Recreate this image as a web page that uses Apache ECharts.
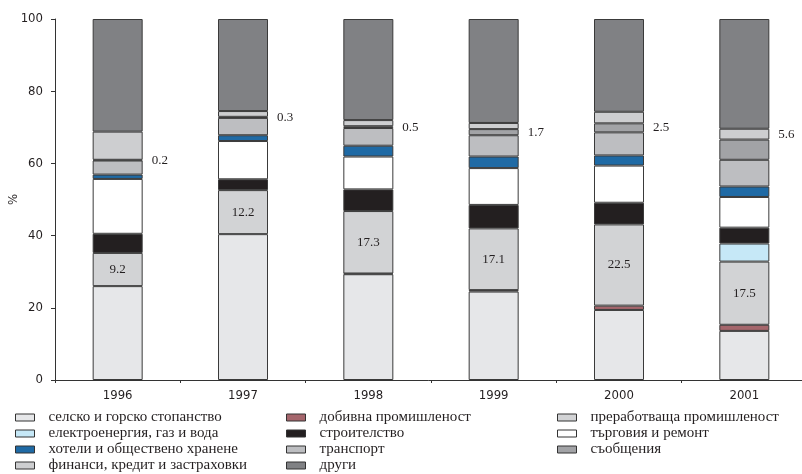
<!DOCTYPE html>
<html>
<head>
<meta charset="utf-8">
<script src="https://cdn.jsdelivr.net/npm/echarts@6/dist/echarts.min.js"></script>
<style>
  html, body { margin: 0; padding: 0; background: #fff; }
  #chart { width: 802px; height: 474px; }
</style>
</head>
<body>
<div id="chart"></div>
<script>
// Gross value added by sector, share of total (%)
const years = ['1996', '1997', '1998', '1999', '2000', '2001'];
const yTicks = [0, 20, 40, 60, 80, 100];

const agriculture    = [26.0, 40.4, 29.3, 24.5, 19.4, 13.6];
const mining         = [null, null, 0.2, 0.4, 1.2, 1.7];
const manufacturing  = [9.2, 12.2, 17.3, 17.1, 22.5, 17.5];
const energy         = [null, null, null, null, null, 5.0];
const construction   = [5.3, 3.0, 6.0, 6.5, 6.0, 4.4];
const trade          = [15.2, 10.6, 9.1, 10.2, 10.3, 8.5];
const hotels         = [1.2, 1.6, 3.0, 3.2, 2.8, 2.9];
const transport      = [3.9, 4.8, 4.9, 5.9, 6.4, 7.4];
const communications = [0.2, 0.3, 0.5, 1.7, 2.5, 5.6];
const finance        = [7.8, 1.6, 1.7, 1.7, 3.2, 3.0];
const other          = [31.2, 25.5, 28.0, 28.8, 25.7, 30.4];

const names = {
  agriculture: 'селско и горско стопанство',
  mining: 'добивна промишленост',
  manufacturing: 'преработваща промишленост',
  energy: 'електроенергия, газ и вода',
  construction: 'строителство',
  trade: 'търговия и ремонт',
  hotels: 'хотели и обществено хранене',
  transport: 'транспорт',
  communications: 'съобщения',
  finance: 'финанси, кредит и застраховки',
  other: 'други'
};

const narrow = '"Liberation Sans Narrow", "DejaVu Sans Condensed", sans-serif';
const serif = '"Liberation Serif", "DejaVu Serif", serif';
const edge = '#3a3a3a';

function bar(key, data, color, label) {
  const s = {
    name: names[key],
    type: 'bar',
    stack: 'total',
    barWidth: 50,
    data: data,
    itemStyle: { color: color, borderColor: edge, borderWidth: 1 },
    emphasis: { disabled: true },
    label: { show: false }
  };
  if (label) s.label = label;
  return s;
}

const labelFont = { fontFamily: serif, fontSize: 13, color: '#231f20' };

const series = [
  bar('agriculture', agriculture, '#e6e7e9'),
  bar('mining', mining, '#a5666c'),
  bar('manufacturing', manufacturing, '#d2d3d5',
      Object.assign({ show: true, position: 'inside' }, labelFont)),
  bar('energy', energy, '#c6e8f7'),
  bar('construction', construction, '#231f20'),
  bar('trade', trade, '#ffffff'),
  bar('hotels', hotels, '#1f6aa5'),
  bar('transport', transport, '#bdbec1'),
  bar('communications',
      communications.map((v, i) => i === communications.length - 1
        ? { value: v, label: { offset: [0, -15] } } : v),
      '#a2a3a6',
      Object.assign({ show: true, position: 'right', distance: 9 }, labelFont)),
  bar('finance', finance, '#cdced0'),
  bar('other', other, '#808184')
];

const legendCommon = {
  orient: 'vertical',
  top: 410,
  padding: 0,
  itemWidth: 19,
  itemHeight: 7,
  itemGap: 1,
  icon: 'rect',
  selectedMode: false,
  itemStyle: { borderColor: '#333', borderWidth: 1 },
  textStyle: { fontFamily: serif, fontSize: 15, color: '#231f20', lineHeight: 15, padding: [0, 0, 0, 9] }
};

const chart = echarts.init(document.getElementById('chart'), null, { renderer: 'canvas' });
chart.setOption({
  animation: false,
  backgroundColor: '#fff',
  grid: { left: 55, top: 19, width: 752, height: 361, containLabel: false, outerBoundsMode: 'none' },
  legend: [
    Object.assign({ left: 15, data: [names.agriculture, names.energy, names.hotels, names.finance] }, legendCommon),
    Object.assign({ left: 286, data: [names.mining, names.construction, names.transport, names.other] }, legendCommon),
    Object.assign({ left: 557, data: [names.manufacturing, names.trade, names.communications] }, legendCommon)
  ],
  xAxis: {
    type: 'category',
    data: years,
    boundaryGap: true,
    axisLine: { lineStyle: { color: '#333', width: 1 } },
    axisTick: { show: true, length: 3, inside: false, alignWithLabel: false, lineStyle: { color: '#333' } },
    axisLabel: { fontFamily: narrow, fontSize: 13, color: '#231f20', margin: 9 },
    splitLine: { show: false }
  },
  yAxis: {
    type: 'value',
    min: yTicks[0],
    max: yTicks[yTicks.length - 1],
    interval: yTicks[1] - yTicks[0],
    name: '%',
    nameLocation: 'middle',
    nameGap: 35,
    nameRotate: 90,
    nameMoveOverlap: false,
    nameTextStyle: { fontFamily: narrow, fontSize: 13, color: '#231f20' },
    axisLine: { show: true, lineStyle: { color: '#333', width: 1 } },
    axisTick: { show: true, length: 4, inside: false, lineStyle: { color: '#333' } },
    axisLabel: { fontFamily: narrow, fontSize: 13, color: '#231f20', margin: 12 },
    splitLine: { show: false }
  },
  series: series
});
</script>
</body>
</html>
